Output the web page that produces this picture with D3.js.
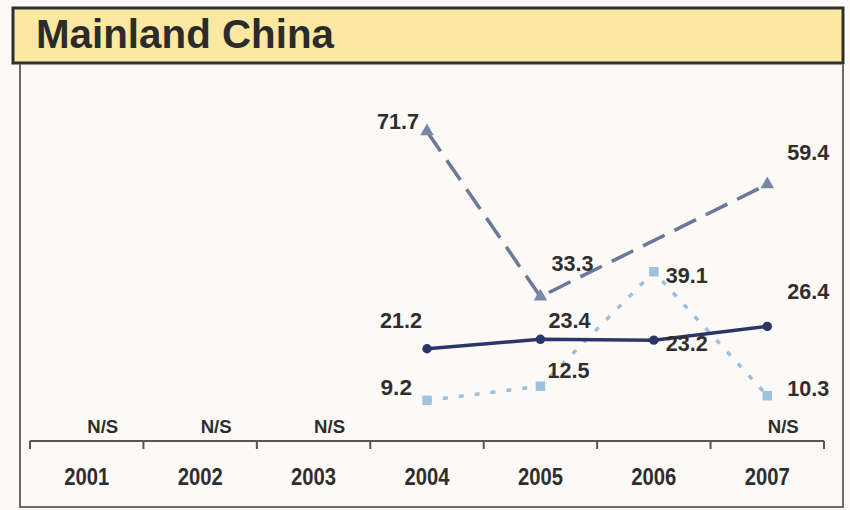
<!DOCTYPE html>
<html>
<head>
<meta charset="utf-8">
<script src="https://cdn.jsdelivr.net/npm/d3@7"></script>
<style>
  html, body { margin: 0; padding: 0; background: #fcf9f7; }
  svg { display: block; font-family: "Liberation Sans", Arial, sans-serif; }
</style>
</head>
<body>
<svg id="chart" width="850" height="510"></svg>
<script>
// Survey years and the values of the three indicators (null = not surveyed)
const years = ["2001", "2002", "2003", "2004", "2005", "2006", "2007"];
const dashedValues = [null, null, null, 71.7, 33.3, null, 59.4];
const solidValues  = [null, null, null, 21.2, 23.4, 23.2, 26.4];
const dottedValues = [null, null, null, 9.2, 12.5, 39.1, 10.3];
const notes = ["N/S", "N/S", "N/S", "", "", "", "N/S"];

// Label offsets (dx, dy, anchor) for each value label, relative to its point
const dashedLabelPos = [null, null, null, [-8, -2, "end"], [11, -26, "start"], null, [20, -24, "start"]];
const solidLabelPos  = [null, null, null, [-5, -21, "end"], [8, -11, "start"], [12, 11, "start"], [20, -27, "start"]];
const dottedLabelPos = [null, null, null, [-15, -5, "end"], [7, -8, "start"], [12, 11, "start"], [20, 0, "start"]];

const svg = d3.select("#chart");

// Title bar
svg.append("rect")
  .attr("x", 13).attr("y", 8).attr("width", 830).attr("height", 55)
  .attr("fill", "#fde8a2").attr("stroke", "#2f2f2f").attr("stroke-width", 3);
svg.append("text")
  .attr("x", 36).attr("y", 48)
  .attr("font-size", 40).attr("font-weight", "bold").attr("fill", "#2b2b2b")
  .attr("textLength", 298).attr("lengthAdjust", "spacingAndGlyphs")
  .text("Mainland China");

// Frame under the title bar
svg.append("path")
  .attr("d", "M20,64 V507 H843 V64")
  .attr("fill", "none").attr("stroke", "#6b6b6b").attr("stroke-width", 2);

// Scales
const x = d3.scaleBand().domain(years).range([30, 824]).padding(0);
const y = d3.scaleLinear().domain([0, 80]).range([440, 95.7]);
const cx = yr => x(yr) + x.bandwidth() / 2;

// Category axis: line with ticks at band boundaries
const axisY = 441;
svg.append("line")
  .attr("x1", x.range()[0]).attr("x2", x.range()[1])
  .attr("y1", axisY).attr("y2", axisY)
  .attr("stroke", "#555").attr("stroke-width", 2);
const bounds = years.map(yr => x(yr)).concat([x.range()[1]]);
svg.selectAll("line.tick").data(bounds).join("line")
  .attr("class", "tick")
  .attr("x1", d => d).attr("x2", d => d)
  .attr("y1", axisY).attr("y2", axisY + 8)
  .attr("stroke", "#555").attr("stroke-width", 2);
svg.selectAll("text.year").data(years).join("text")
  .attr("class", "year")
  .attr("x", d => cx(d)).attr("y", 485)
  .attr("text-anchor", "middle")
  .attr("font-size", 24).attr("font-weight", "bold").attr("fill", "#2e2e2e")
  .attr("textLength", 45).attr("lengthAdjust", "spacingAndGlyphs")
  .text(d => d);
svg.selectAll("text.note").data(years.map((yr, i) => ({ yr, t: notes[i] })).filter(d => d.t))
  .join("text")
  .attr("class", "note")
  .attr("x", d => cx(d.yr) + 16).attr("y", 433)
  .attr("text-anchor", "middle")
  .attr("font-size", 18).attr("font-weight", "bold").attr("fill", "#2e2e2e")
  .attr("textLength", 31).attr("lengthAdjust", "spacingAndGlyphs")
  .text(d => d.t);

const toPoints = vals => years.map((yr, i) => ({ yr, v: vals[i], i })).filter(d => d.v !== null);
const line = d3.line().x(d => cx(d.yr)).y(d => y(d.v));

const series = [
  { vals: dottedValues, pos: dottedLabelPos, color: "#9dbfdc", width: 3.5, dash: "5,11", marker: "square", markerColor: "#9ec2de" },
  { vals: dashedValues, pos: dashedLabelPos, color: "#6a7899", width: 3.5, dash: "24,11", marker: "triangle", markerColor: "#7886ab" },
  { vals: solidValues,  pos: solidLabelPos,  color: "#28366a", width: 3.5, dash: null, marker: "circle", markerColor: "#28366a" }
];

series.forEach(s => {
  const pts = toPoints(s.vals);
  svg.append("path")
    .attr("d", line(pts))
    .attr("fill", "none")
    .attr("stroke", s.color)
    .attr("stroke-width", s.width)
    .attr("stroke-dasharray", s.dash);
  const sym = s.marker === "square" ? d3.symbolSquare : s.marker === "triangle" ? d3.symbolTriangle : d3.symbolCircle;
  const size = s.marker === "square" ? 90 : s.marker === "triangle" ? 80 : 70;
  svg.selectAll(null).data(pts).join("path")
    .attr("transform", d => `translate(${cx(d.yr)},${y(d.v)})`)
    .attr("d", d3.symbol().type(sym).size(size))
    .attr("fill", s.markerColor);
});

// Value labels drawn on top
series.forEach(s => {
  const pts = toPoints(s.vals);
  svg.selectAll(null).data(pts).join("text")
    .attr("x", d => cx(d.yr) + s.pos[d.i][0])
    .attr("y", d => y(d.v) + s.pos[d.i][1])
    .attr("text-anchor", d => s.pos[d.i][2])
    .attr("font-size", 22).attr("font-weight", "bold").attr("fill", "#2e2e2e")
    .attr("textLength", d => d.v.toFixed(1).length * 10.5)
    .attr("lengthAdjust", "spacingAndGlyphs")
    .text(d => d.v.toFixed(1));
});
</script>
</body>
</html>
